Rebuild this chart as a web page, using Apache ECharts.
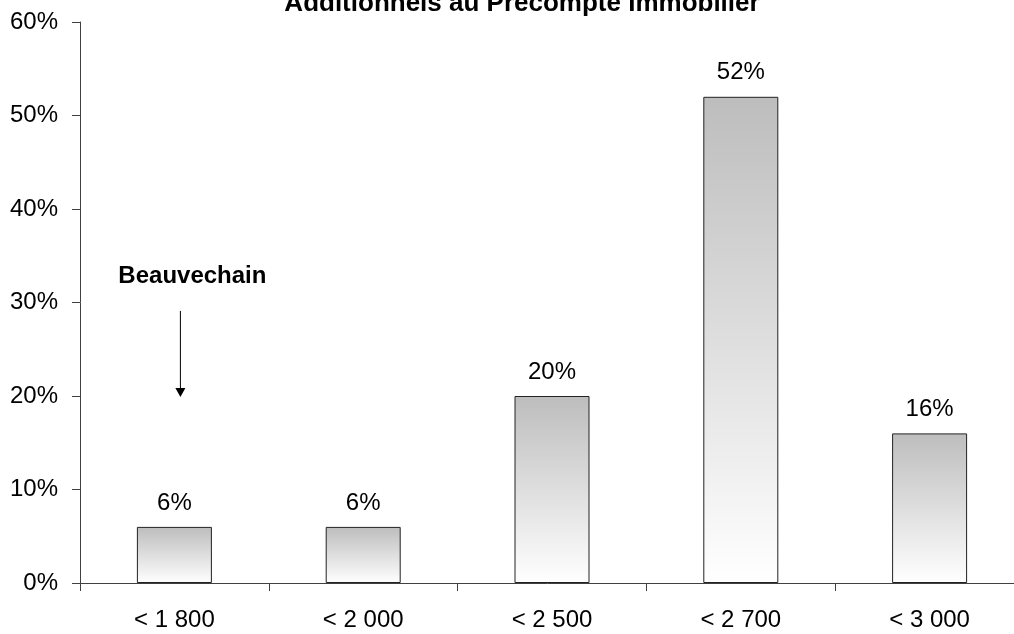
<!DOCTYPE html>
<html>
<head>
<meta charset="utf-8">
<script src="https://cdn.jsdelivr.net/npm/echarts@6/dist/echarts.min.js"></script>
<style>
  html, body { margin: 0; padding: 0; background: #fff; }
  #chart { width: 1014px; height: 634px; }
</style>
</head>
<body>
<div id="chart"></div>
<script>
// tranches de montant
var categories = ['< 1 800', '< 2 000', '< 2 500', '< 2 700', '< 3 000'];
// part des communes (%)
var values = [6, 6, 20, 52, 16];
var yTicks = [0, 10, 20, 30, 40, 50, 60];

var chart = echarts.init(document.getElementById('chart'), null, { renderer: 'canvas' });

var FONT = 'Liberation Sans, Arial';

var option = {
  animation: false,
  backgroundColor: '#fff',
  title: {
    text: 'Additionnels au Précompte Immobilier',
    left: 517,
    textAlign: 'center',
    top: -14,
    textStyle: {
      fontFamily: FONT,
      fontSize: 26,
      fontWeight: 'bold',
      color: '#000'
    }
  },
  grid: {
    left: 80,
    top: 22,
    bottom: 51,
    width: 944,
    outerBoundsMode: 'none'
  },
  xAxis: {
    type: 'category',
    data: categories,
    axisLine: { lineStyle: { color: '#404040', width: 1 } },
    axisTick: { show: true, length: 8, lineStyle: { color: '#404040' } },
    axisLabel: {
      color: '#000',
      fontSize: 24,
      fontFamily: FONT,
      margin: 25
    }
  },
  yAxis: {
    type: 'value',
    min: yTicks[0],
    max: yTicks[yTicks.length - 1],
    interval: 10,
    splitLine: { show: false },
    axisLine: { show: true, lineStyle: { color: '#404040', width: 1 } },
    axisTick: { show: true, length: 8, lineStyle: { color: '#404040' } },
    axisLabel: {
      color: '#000',
      fontSize: 24,
      fontFamily: FONT,
      margin: 22,
      formatter: '{value}%'
    }
  },
  series: [{
    type: 'bar',
    data: values,
    barWidth: 75,
    itemStyle: {
      color: new echarts.graphic.LinearGradient(0, 0, 0, 1, [
        { offset: 0, color: '#bdbdbd' },
        { offset: 1, color: '#ffffff' }
      ]),
      borderColor: '#222',
      borderWidth: 1
    },
    label: {
      show: true,
      position: 'top',
      distance: 12,
      color: '#000',
      fontSize: 24,
      fontFamily: FONT,
      formatter: '{c}%'
    }
  }]
};

chart.setOption(option);

// annotation Beauvechain : flèche un peu à droite du centre de la barre
var pStart = chart.convertToPixel({ gridIndex: 0 }, [0, 29.1]);
var pEnd = chart.convertToPixel({ gridIndex: 0 }, [0, 19.9]);
var pText = chart.convertToPixel({ gridIndex: 0 }, [0, 32.8]);
var ax = pStart[0] + 6;
chart.setOption({
  graphic: [
    {
      type: 'line',
      shape: { x1: ax, y1: pStart[1], x2: ax, y2: pEnd[1] - 8 },
      style: { stroke: '#000', lineWidth: 1 },
      silent: true
    },
    {
      type: 'polygon',
      shape: { points: [[ax - 5, pEnd[1] - 9], [ax + 5, pEnd[1] - 9], [ax, pEnd[1]]] },
      style: { fill: '#000' },
      silent: true
    },
    {
      type: 'text',
      x: pText[0] + 18,
      y: pText[1],
      style: {
        text: 'Beauvechain',
        fill: '#000',
        font: 'bold 24px ' + FONT,
        align: 'center',
        verticalAlign: 'middle'
      },
      silent: true
    }
  ]
});
</script>
</body>
</html>
